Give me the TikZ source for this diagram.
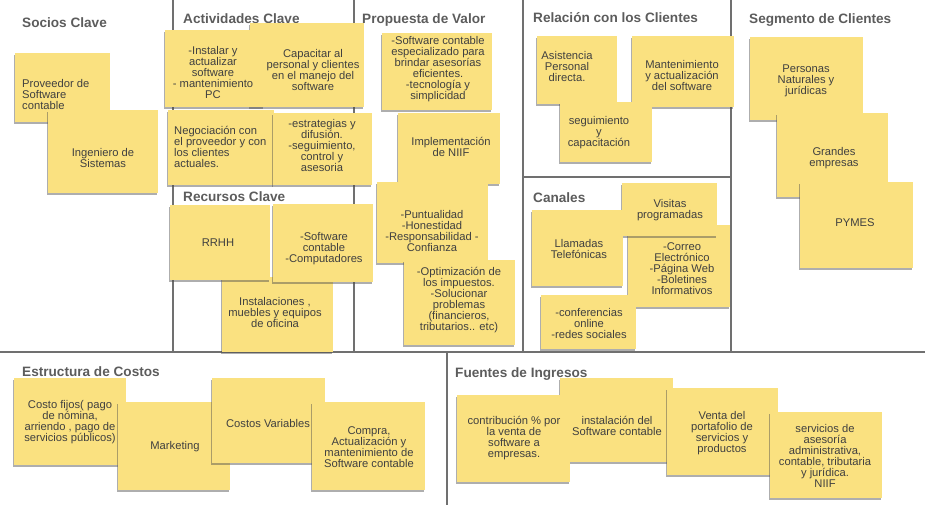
\documentclass[tikz,border=0pt]{standalone}
\usepackage{fontspec}
\setmainfont{Liberation Sans}
\usetikzlibrary{shadows, fit}
\definecolor{noteyellow}{RGB}{250,225,128}
\definecolor{notetext}{RGB}{64,64,64}
\definecolor{headgray}{RGB}{92,92,92}
\definecolor{linegray}{RGB}{112,112,112}

\begin{document}
\begin{tikzpicture}[x=1pt, y=-1pt,
			note/.style={rectangle, fill=noteyellow, inner sep=0pt, drop shadow={shadow xshift=-1.2pt, shadow yshift=-1.8pt, opacity=.45, fill=black!70}},
			txt/.style={align=center, inner sep=0pt, text=notetext, font=\fontsize{11.2}{11}\selectfont},
			head/.style={anchor=base west, inner sep=0pt, text=headgray, font=\bfseries\fontsize{13.6}{15}\selectfont},
			line/.style={draw=linegray, line width=1.3pt},
			]
			\useasboundingbox (0,0) rectangle (925,505);
			
			% Lines
			\draw[line] (173,0) -- (173,352);
			\draw[line] (354,0) -- (354,352);
			\draw[line] (523,0) -- (523,352);
			\draw[line] (731,0) -- (731,352);
			\draw[line] (523,177) -- (731,177);
			\draw[line] (0,352) -- (925,352);
			\draw[line] (447,352) -- (447,505);
			
			% Headers
			\node[head] (socios) at (22,28) {Socios Clave};
			\node[head] (activ) at (183,24) {Actividades Clave};
			\node[head] (prop) at (362,24) {Propuesta de Valor};
			\node[head] (relac) at (533,23) {Relación con los Clientes};
			\node[head] (segm) at (749,24) {Segmento de Clientes};
			\node[head] (recur) at (183,201) {Recursos Clave};
			\node[head] (canal) at (533,202) {Canales};
			\node[head] (costos) at (22,376) {Estructura de Costos};
			\node[head] (ingr) at (455,377) {Fuentes de Ingresos};
			
			% Socios Clave
			\node[note, fit={(15,53) (110,122)}] (prov) {};
			\node[txt, anchor=west, align=left] (prov-t) at (22,94) {Proveedor de\\Software\\contable};
			\node[note, fit={(48,110) (158,193)}] (ing) {};
			\node[txt] (ing-t) at (103,158) {Ingeniero de\\Sistemas};
			
			% Actividades Clave
			\node[note, fit={(250,23) (364,107)}] (capac) {};
			\node[txt] (capac-t) at (313,70) {Capacitar al\\personal y clientes\\en el manejo del\\software};
			\node[note, fit={(165,30) (264,107)}] (inst) {};
			\node[txt] (inst-t) at (213,72) {-Instalar y\\actualizar\\software\\- mantenimiento\\PC};
			\node[note, fit={(168,110) (274,185)}] (negoc) {};
			\node[txt, anchor=west, align=left] (negoc-t) at (174,147) {Negociación con\\el proveedor y con\\los clientes\\actuales.};
			\node[note, fit={(273,113) (372,185)}] (estrat) {};
			\node[txt] (estrat-t) at (322,145) {-estrategias y\\difusión.\\-seguimiento,\\control y\\asesoria};
			
			% Recursos Clave
			\node[note, fit={(222,277) (333,352)}] (instal) {};
			\node[txt] (instal-t) at (275,312) {Instalaciones ,\\muebles y equipos\\de oficina};
			\node[note, fit={(170,205) (270,280)}] (rrhh) {};
			\node[txt] (rrhh-t) at (218,243) {RRHH};
			\node[note, fit={(273,204) (373,282)}] (swrec) {};
			\node[txt] (swrec-t) at (324,249) {-Software\\contable\\-Computadores};
			
			% Propuesta de Valor
			\node[note, fit={(382,33) (492,110)}] (swesp) {};
			\node[txt] (swesp-t) at (438,69) {-Software contable\\especializado para\\brindar asesorías\\eficientes.\\-tecnología y\\simplicidad};
			\node[note, fit={(398,113) (500,184)}] (niif) {};
			\node[txt] (niif-t) at (451,147) {Implementación\\de NIIF};
			\node[note, fit={(377,182) (488,263)}] (valores) {};
			\node[txt] (valores-t) at (432,231) {-Puntualidad\\-Honestidad\\-Responsabilidad -\\Confianza};
			\node[note, fit={(404,260) (515,345)}] (optim) {};
			\node[txt] (optim-t) at (459,300) {-Optimización de\\los impuestos.\\-Solucionar\\problemas\\(financieros,\\tributarios.. etc)};
			
			% Relacion con los Clientes
			\node[note, fit={(537,36) (617,104)}] (asist) {};
			\node[txt] (asist-t) at (567,66) {Asistencia\\Personal\\directa.};
			\node[note, fit={(632,36) (734,107)}] (mant) {};
			\node[txt] (mant-t) at (682,75) {Mantenimiento\\y actualización\\del software};
			\node[note, fit={(560,102) (652,162)}] (seguim) {};
			\node[txt] (seguim-t) at (599,133) {seguimiento\\y\\capacitación};
			
			% Canales
			\node[note, fit={(628,225) (730,307)}] (correo) {};
			\node[txt] (correo-t) at (682,269) {-Correo\\Electrónico\\-Página Web\\-Boletines\\Informativos};
			\node[note, fit={(622,183) (717,236)}] (visit) {};
			\node[txt] (visit-t) at (670,210) {Visitas\\programadas};
			\node[note, fit={(532,210) (623,286)}] (llam) {};
			\node[txt] (llam-t) at (579,249) {Llamadas\\Telefónicas};
			\node[note, fit={(541,295) (636,349)}] (conf) {};
			\node[txt] (conf-t) at (589,323) {-conferencias\\online\\-redes sociales};
			
			% Segmento de Clientes
			\node[note, fit={(750,37) (863,120)}] (pers) {};
			\node[txt] (pers-t) at (806,81) {Personas\\Naturales y\\jurídicas};
			\node[note, fit={(777,113) (888,197)}] (grand) {};
			\node[txt] (grand-t) at (834,158) {Grandes\\empresas};
			\node[note, fit={(800,182) (913,268)}] (pymes) {};
			\node[txt] (pymes-t) at (855,223) {PYMES};
			
			% Estructura de Costos
			\node[note, fit={(14,378) (126,465)}] (fijos) {};
			\node[txt] (fijos-t) at (70,422) {Costo fijos( pago\\de nómina,\\arriendo , pago de\\servicios públicos)};
			\node[note, fit={(118,402) (230,490)}] (mkt) {};
			\node[txt] (mkt-t) at (175,447) {Marketing};
			\node[note, fit={(212,378) (325,463)}] (cvar) {};
			\node[txt] (cvar-t) at (268,423) {Costos Variables};
			\node[note, fit={(312,402) (425,490)}] (compra) {};
			\node[txt] (compra-t) at (369,447) {Compra,\\Actualización y\\mantenimiento de\\Software contable};
			
			% Fuentes de Ingresos
			\node[note, fit={(560,378) (673,462)}] (instsw) {};
			\node[txt] (instsw-t) at (617,426) {instalación del\\Software contable};
			\node[note, fit={(457,395) (570,482)}] (contr) {};
			\node[txt] (contr-t) at (514,438) {contribución \% por\\la venta de\\software a\\empresas.};
			\node[note, fit={(667,388) (778,475)}] (venta) {};
			\node[txt] (venta-t) at (722,433) {Venta del\\portafolio de\\servicios y\\productos};
			\node[note, fit={(770,412) (882,498)}] (serv) {};
			\node[txt] (serv-t) at (825,456) {servicios de\\asesoría\\administrativa,\\contable, tributaria\\y jurídica.\\NIIF};
		\end{tikzpicture}
\end{document}
